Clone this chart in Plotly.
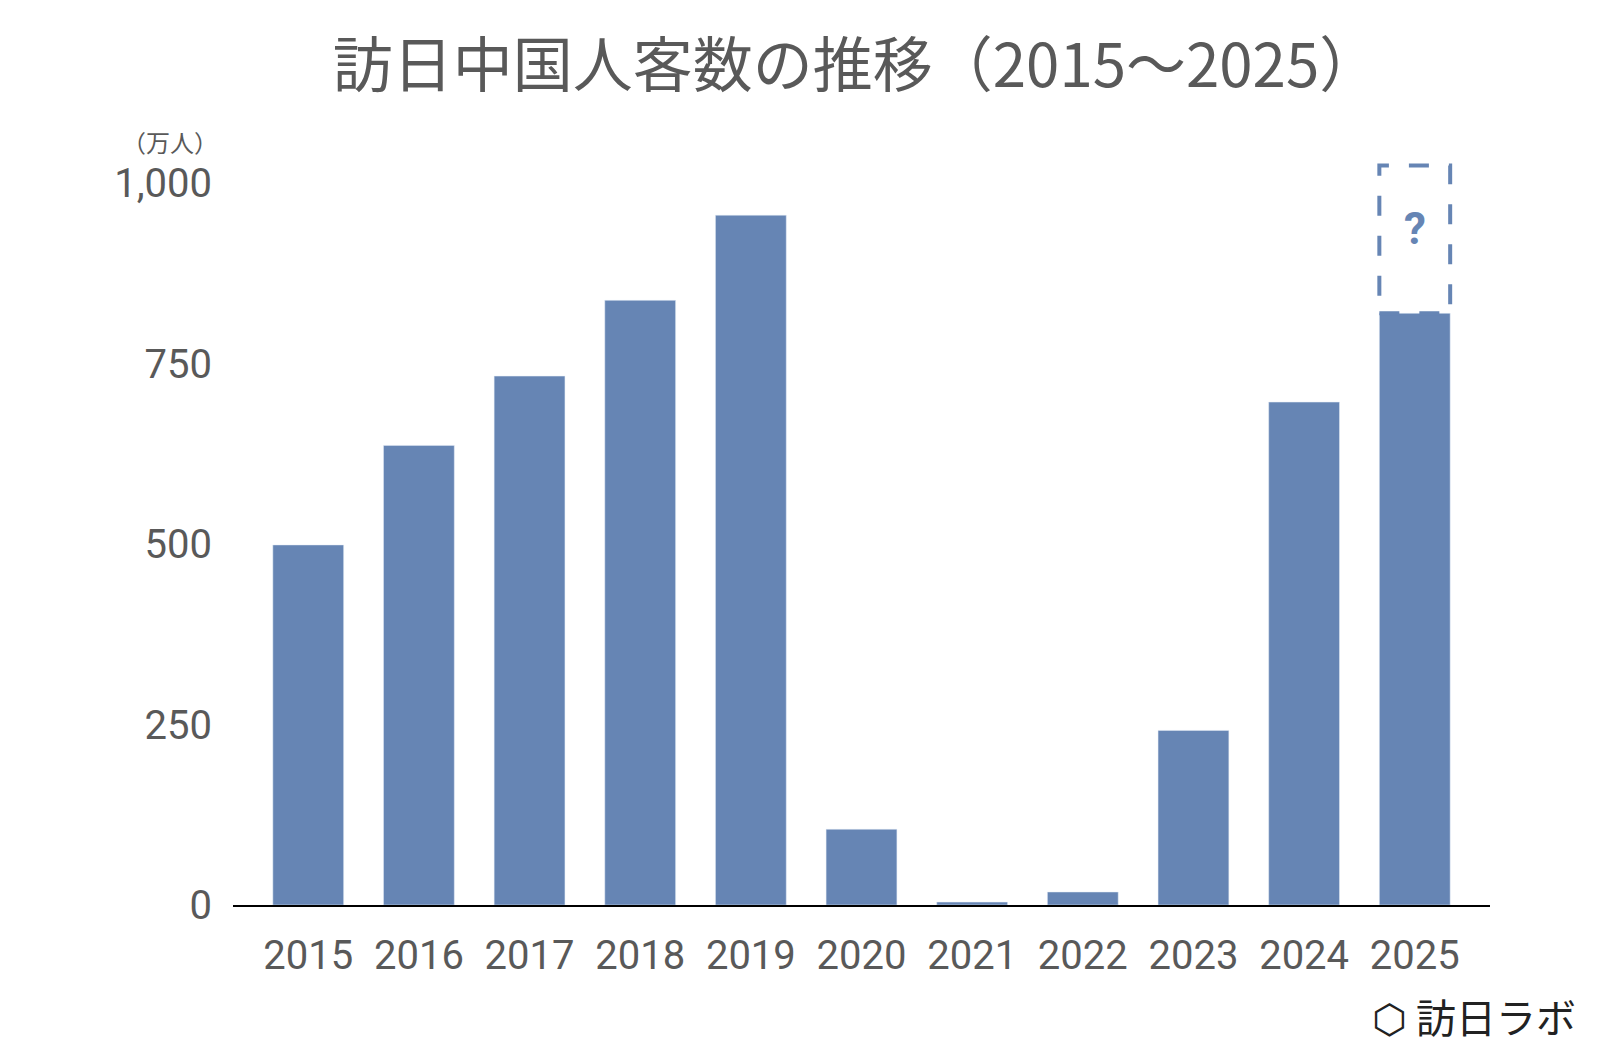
import plotly.graph_objects as go

years = ["2015", "2016", "2017", "2018", "2019", "2020", "2021", "2022", "2023", "2024", "2025"]
visitors = [499, 637, 733, 838, 956, 105, 4, 18, 242, 697, 820]
estimate_top = 1025

bar_color = "#6685b4"
grey = "#595959"
font = "Noto Sans CJK JP"

fig = go.Figure()
fig.add_trace(go.Bar(x=list(range(len(years))), y=visitors, marker_color=bar_color, width=0.64))

last = len(years) - 1
fig.add_shape(type="rect", x0=last - 0.32, x1=last + 0.32, y0=visitors[-1], y1=estimate_top,
              line=dict(color=bar_color, width=4, dash="longdash"), fillcolor="rgba(0,0,0,0)")
fig.add_annotation(x=last, y=(visitors[-1] + estimate_top) / 2 + 15, text="<b>?</b>", showarrow=False,
                   font=dict(size=44, color=bar_color, family="Roboto"))

fig.update_layout(
    width=1600, height=1050,
    plot_bgcolor="white", paper_bgcolor="white",
    margin=dict(l=225, r=118, t=130, b=153),
    showlegend=False,
    title=dict(text="訪日中国人客数の推移（2015～2025）", x=0.53, xanchor="center", y=0.965,
               font=dict(size=60, color=grey, family=font)),
    font=dict(family=font, color=grey),
)
fig.update_xaxes(tickmode="array", tickvals=list(range(len(years))), ticktext=years,
                 range=[-0.68, 10.68], showline=True, linecolor="black", linewidth=2,
                 ticks="", ticklabelstandoff=14, tickfont=dict(size=40, color=grey, family="Roboto"),
                 showgrid=False)
fig.update_yaxes(range=[0, 1063], tickvals=[0, 250, 500, 750, 1000], tickformat=",",
                 showgrid=False, zeroline=False, ticks="", ticklabelstandoff=20,
                 tickfont=dict(size=40, color=grey, family="Roboto"))
fig.add_annotation(xref="paper", yref="paper", x=-0.05, y=0.97, text="（万人）", showarrow=False,
                   xanchor="center", yanchor="bottom", font=dict(size=24, color=grey, family=font))
fig.add_annotation(xref="paper", yref="paper", x=1.07, y=-0.145, text="⬡ 訪日ラボ", showarrow=False,
                   xanchor="right", yanchor="middle", font=dict(size=40, color="#222222", family=font))

fig.write_html("out.html")
